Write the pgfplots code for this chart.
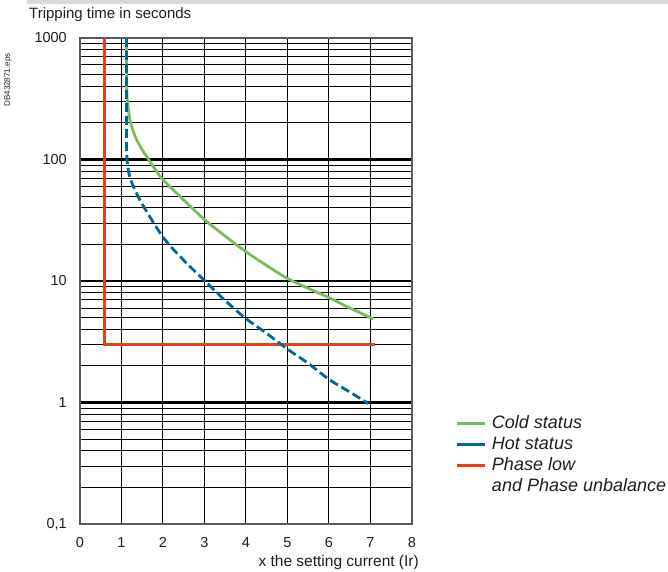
\documentclass[border=0pt]{standalone}
\usepackage{pgfplots}
\pgfplotsset{compat=1.18}
\usepackage{fontspec}
\setmainfont{Liberation Sans}
\definecolor{greenc}{RGB}{122,188,92}
\definecolor{bluec}{RGB}{0,104,150}
\definecolor{redc}{RGB}{232,62,26}
\definecolor{framec}{RGB}{90,90,90}
\definecolor{txtc}{RGB}{30,30,30}
\begin{document}
\begin{tikzpicture}
\path[use as bounding box] (0,0) rectangle (668bp,572bp);
\fill[black!15] (27bp,567.5bp) rectangle (668bp,572bp);
\node[anchor=base west, inner sep=0, text=txtc, font=\fontsize{15bp}{17bp}\selectfont] at (29bp,553bp) {Tripping time in seconds};
\node[rotate=90, inner sep=0, text=txtc, font=\fontsize{8bp}{9bp}\selectfont] at (8bp,492bp) {DB432871.eps};
\begin{axis}[
  at={(80bp,48bp)}, anchor=south west,
  scale only axis, width=332bp, height=486bp,
  xmin=0, xmax=8, ymin=0.1, ymax=1000,
  ymode=log,
  xtick={0,1,2,3,4,5,6,7,8},
  xticklabels={0,1,2,3,4,5,6,7,8},
  ytick={0.1,1,10,100,1000},
  yticklabels={{0,1},1,10,100,1000},
  minor ytick={0.2,0.3,0.4,0.5,0.6,0.7,0.8,0.9,2,3,4,5,6,7,8,9,20,30,40,50,60,70,80,90,200,300,400,500,600,700,800,900},
  major tick length=0pt, minor tick length=0pt,
  xmajorgrids, ymajorgrids, yminorgrids,
  major x grid style={black, line width=1bp},
  major y grid style={black, line width=2.2bp},
  minor y grid style={black, line width=0.9bp},
  axis line style={framec, line width=1.4bp},
  tick label style={text=txtc, font=\fontsize{14.5bp}{16bp}\selectfont, inner sep=0pt},
  xticklabel style={yshift=-13bp},
  yticklabel style={xshift=-13bp},
  xlabel={x the setting current (Ir)},
  xlabel style={at={(rel axis cs:1,0)}, anchor=north east, inner sep=0pt, xshift=7bp, yshift=-31bp, text=txtc, font=\fontsize{15.5bp}{17bp}\selectfont},
  legend image code/.code={\draw[#1] (0bp,0bp) -- (28bp,0bp);},
  legend style={at={(rel axis cs:1.1295,0.224)}, anchor=north west, draw=none, fill=none,
    font=\fontsize{18bp}{21bp}\selectfont\itshape, text=txtc,
    cells={anchor=west}, row sep=4bp, column sep=6bp, inner sep=0pt,
    nodes={inner sep=0pt, text height=13bp, text depth=4bp}},
  legend cell align=left,
]
\addplot[redc, line width=2.8bp, forget plot] coordinates {(0.6,1000) (0.6,3) (7.1,3)};
\addplot[greenc, line width=2.8bp, smooth, forget plot] coordinates {
 (1.12,1000) (1.12,600) (1.125,420) (1.14,310) (1.205,211) (1.28,172) (1.366,145) (1.5,120) (1.645,101) (1.8,84) (2,68) (2.3,54) (2.6,43) (3,32) (3.5,23.4) (4,17.4) (4.5,13.4) (5,10.5) (5.5,8.7) (6,7.3) (6.5,6.0) (7.07,4.87)};
\addplot[bluec, line width=2.8bp, dash pattern=on 9bp off 4bp, smooth, forget plot] coordinates {
 (1.12,1000) (1.12,300) (1.12,160) (1.13,105) (1.2,72) (1.45,46) (2,23) (2.5,14.8) (3,10.1) (3.5,6.9) (4,4.9) (4.5,3.7) (5,2.75) (5.5,2.1) (6,1.55) (6.5,1.22) (6.95,0.98)};
\addlegendimage{greenc, line width=2.8bp}
\addlegendentry{Cold status}
\addlegendimage{bluec, line width=2.8bp}
\addlegendentry{Hot status}
\addlegendimage{redc, line width=2.8bp}
\addlegendentry{Phase low}
\addlegendimage{empty legend}
\addlegendentry{and Phase unbalance}
\end{axis}
\end{tikzpicture}
\end{document}
